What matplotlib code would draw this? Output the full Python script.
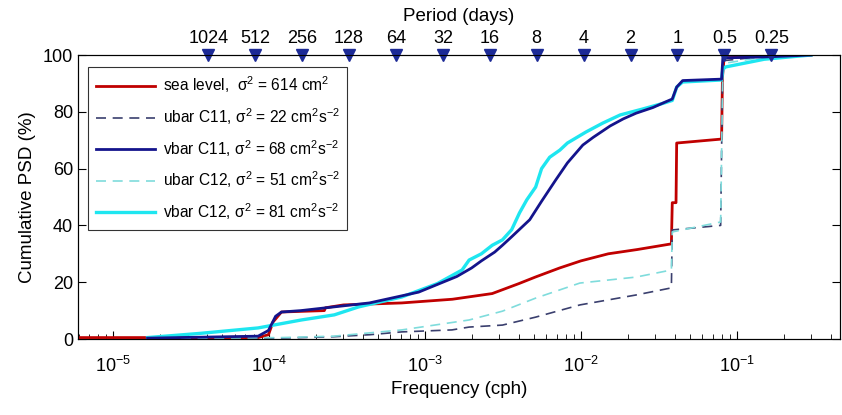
import matplotlib
matplotlib.use("Agg")
import matplotlib.pyplot as plt
import numpy as np

plt.rcParams['font.family'] = ['Liberation Sans', 'DejaVu Sans']
plt.rcParams['mathtext.fontset'] = 'custom'
plt.rcParams['mathtext.rm'] = 'Liberation Sans'
plt.rcParams['mathtext.it'] = 'Liberation Sans:italic'
plt.rcParams['mathtext.bf'] = 'Liberation Sans:bold'

# ---------------- data (frequency in cph, cumulative PSD in %) ----------------
sea_f = [5.94e-6, 8.5e-5, 9.9e-5, 1.06e-4, 1.2e-4, 2.26e-4, 2.3e-4, 3.0e-4, 7.1e-4,
         1.5e-3, 2.7e-3, 4.0e-3, 5.1e-3, 7.3e-3, 1.0e-2, 1.5e-2, 2.3e-2, 3.81e-2,
         3.86e-2, 4.08e-2, 4.12e-2, 8.0e-2, 8.1e-2, 8.3e-2, 0.15, 0.3]
sea_p = [0.5, 0.5, 1.5, 6, 9.5, 10, 11, 12, 12.7,
         14, 16, 19.5, 21.8, 25, 27.5, 30, 31.5, 33.5,
         48, 48, 69, 70.4, 92, 99, 99.7, 100]

u11_f = [1.66e-5, 1.2e-4, 2.6e-4, 4.4e-4, 7.1e-4, 1.49e-3, 1.92e-3, 3.14e-3, 5.13e-3,
         9.86e-3, 2.26e-2, 3.81e-2, 3.86e-2, 7.89e-2, 8.13e-2, 8.2e-2, 0.15, 0.3]
u11_p = [0.2, 0.3, 0.8, 1.5, 2.5, 3.2, 4.2, 4.9, 7.7,
         12, 15.5, 18, 38.4, 40, 97, 98, 99.5, 100]

v11_f = [1.66e-5, 8.5e-5, 9.9e-5, 1.1e-4, 1.2e-4, 1.6e-4, 2.6e-4, 4.4e-4, 9.1e-4,
         1.6e-3, 1.99e-3, 2.3e-3, 2.8e-3, 3.14e-3, 3.6e-3, 4.7e-3, 5.6e-3, 6.9e-3,
         8.2e-3, 1.03e-2, 1.2e-2, 1.54e-2, 1.87e-2, 2.26e-2, 2.9e-2, 3.5e-2,
         3.86e-2, 4.12e-2, 4.5e-2, 8.0e-2, 8.15e-2, 0.15, 0.3]
v11_p = [0.3, 1, 3, 8, 9.5, 10, 11.3, 12.7, 16.5,
         22, 25, 27.5, 30.6, 33, 36, 42, 48.5, 56,
         62, 68.3, 71, 75, 77.5, 79.5, 81.5, 83.5,
         84.5, 88.7, 91, 91.5, 99, 99.3, 100]

u12_f = [1.66e-5, 1.2e-4, 2.6e-4, 7.1e-4, 1.92e-3, 3.14e-3, 5.13e-3, 9.86e-3,
         2.26e-2, 3.81e-2, 3.86e-2, 7.89e-2, 8.15e-2, 0.15, 0.3]
u12_p = [0.2, 0.5, 1, 3.2, 6.7, 9.8, 14.4, 19.7,
         21.8, 24.3, 37.7, 41.2, 97, 99.3, 100]

v12_f = [1.66e-5, 3.64e-5, 8.5e-5, 1.61e-4, 2.62e-4, 3.75e-4, 7.1e-4, 1.2e-3, 1.73e-3,
         1.92e-3, 2.3e-3, 2.7e-3, 3.14e-3, 3.6e-3, 4.04e-3, 4.5e-3, 5.13e-3, 5.6e-3,
         6.31e-3, 7.33e-3, 8.2e-3, 1.08e-2, 1.38e-2, 1.79e-2, 2.5e-2,
         3.38e-2, 3.86e-2, 4.12e-2, 4.5e-2, 8.0e-2, 8.15e-2, 8.5e-2, 0.15, 0.3]
v12_p = [0.5, 2, 3.9, 6.7, 8.5, 11.3, 14.8, 19.5, 24.3,
         27.8, 30, 33, 34.9, 38.5, 44.4, 49, 53.5, 60,
         64, 66.5, 69, 72.9, 76, 78.9, 81,
         83, 84, 88.7, 90.5, 91.2, 95, 95.8, 98.5, 100]

period_days = [1024, 512, 256, 128, 64, 32, 16, 8, 4, 2, 1, 0.5, 0.25]
period_labels = ['1024', '512', '256', '128', '64', '32', '16', '8', '4', '2', '1', '0.5', '0.25']

labels = [r'sea level,  σ$^2$ = 614 cm$^2$',
          r'ubar C11, σ$^2$ = 22 cm$^2$s$^{-2}$',
          r'vbar C11, σ$^2$ = 68 cm$^2$s$^{-2}$',
          r'ubar C12, σ$^2$ = 51 cm$^2$s$^{-2}$',
          r'vbar C12, σ$^2$ = 81 cm$^2$s$^{-2}$']

# ---------------- figure ----------------
fig = plt.figure(figsize=(8.42, 4.15), dpi=100)
ax = fig.add_axes([78 / 842, 1 - 339 / 415, (840 - 78) / 842, (339 - 55) / 415])

ax.plot(sea_f, sea_p, color='#c00000', lw=2.0, label=labels[0], zorder=3)
ax.plot(u11_f, u11_p, color='#3a3f6e', lw=1.2, ls=(0, (6, 4)), label=labels[1], zorder=3)
ax.plot(v11_f, v11_p, color='#14148c', lw=2.0, label=labels[2], zorder=4)
ax.plot(u12_f, u12_p, color='#7fdcdc', lw=1.2, ls=(0, (6, 4)), label=labels[3], zorder=3)
ax.plot(v12_f, v12_p, color='#1ee6f0', lw=2.4, label=labels[4], zorder=3)

ax.set_xscale('log')
ax.set_xlim(5.94e-6, 0.46)
ax.set_ylim(0, 100)
ax.set_yticks([0, 20, 40, 60, 80, 100])
ax.tick_params(which='both', direction='in', top=True, right=True, labelsize=13)
ax.tick_params(which='major', length=6)
ax.tick_params(which='minor', length=3.5)
ax.tick_params(axis='x', which='major', pad=12)
ax.set_xlabel('Frequency (cph)', fontsize=13.5)
ax.set_ylabel('Cumulative PSD (%)', fontsize=13.5, labelpad=5)

# Period axis on top
per_f = [1.0 / (24.0 * p) for p in period_days]
ax.plot(per_f, [100] * len(per_f), ls='none', marker='v', ms=8, color='#1c2a96',
        clip_on=False, zorder=6)
ax2 = ax.twiny()
ax2.set_xscale('log')
ax2.set_xlim(ax.get_xlim())
ax2.set_xticks(per_f)
ax2.set_xticklabels(period_labels, fontsize=13)
ax2.xaxis.set_minor_locator(matplotlib.ticker.NullLocator())
ax2.tick_params(axis='x', length=0, pad=6)
ax2.set_xlabel('Period (days)', fontsize=13.5, labelpad=6)

leg = ax.legend(loc='upper left', bbox_to_anchor=(0.013, 0.958), fontsize=11.2,
                frameon=True, fancybox=False, edgecolor='black', handlelength=3.8,
                borderpad=0.5, labelspacing=0.7, handletextpad=0.5, borderaxespad=0)
leg.get_frame().set_linewidth(0.8)

fig.savefig('out.png', dpi=100)
